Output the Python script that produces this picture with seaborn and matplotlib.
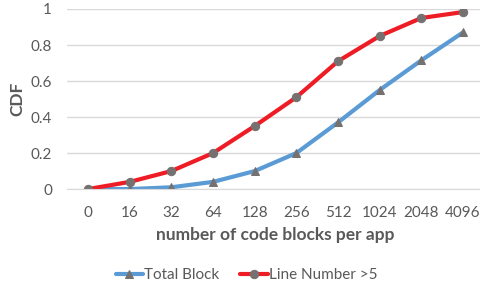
import pandas as pd
import seaborn as sns
import matplotlib.pyplot as plt

blocks = ["0", "16", "32", "64", "128", "256", "512", "1024", "2048", "4096"]
total_block = [0.0, 0.0, 0.01, 0.04, 0.10, 0.20, 0.37, 0.55, 0.715, 0.87]
line_gt5 = [0.0, 0.04, 0.10, 0.20, 0.35, 0.51, 0.71, 0.85, 0.95, 0.983]

sns.set_style("white")
plt.rcParams['font.family'] = ['Lato', 'DejaVu Sans']
text_gray = "#595959"

df = pd.DataFrame({
    "pos": list(range(len(blocks))) * 2,
    "cdf": total_block + line_gt5,
    "series": ["Total Block"] * len(blocks) + ["Line Number >5"] * len(blocks),
})

fig = plt.figure(figsize=(4.8, 2.9), dpi=100)
ax = fig.add_axes([0.14, 0.348, 0.868, 0.621])

sns.lineplot(data=df[df.series == "Total Block"], x="pos", y="cdf", ax=ax,
             color="#5B9BD5", linewidth=3, marker="^", markersize=6,
             markerfacecolor="#767171", markeredgecolor="#767171",
             label="Total Block")
sns.lineplot(data=df[df.series == "Line Number >5"], x="pos", y="cdf", ax=ax,
             color="#EE1C25", linewidth=3, marker="o", markersize=6,
             markerfacecolor="#767171", markeredgecolor="#767171",
             label="Line Number >5")

ax.set_xlim(-0.5, len(blocks) - 0.5)
ax.set_ylim(0, 1)
ax.set_xticks(range(len(blocks)))
ax.set_xticklabels(blocks)
ax.set_yticks([0, 0.2, 0.4, 0.6, 0.8, 1])
ax.set_yticklabels(["0", "0.2", "0.4", "0.6", "0.8", "1"])
ax.yaxis.grid(True, color="#D9D9D9", linewidth=1)
ax.set_axisbelow(True)
for s in ["top", "right", "left"]:
    ax.spines[s].set_visible(False)
ax.spines["bottom"].set_color("#D9D9D9")
ax.tick_params(axis="both", length=0, labelsize=11, colors=text_gray)
ax.tick_params(axis="x", pad=12)
ax.tick_params(axis="y", pad=11)
ax.set_xlabel("number of code blocks per app", fontsize=12.5, fontweight="bold",
              color=text_gray, labelpad=5)
ax.set_ylabel("CDF", fontsize=12.5, fontweight="bold", color=text_gray, labelpad=4)

ax.legend(loc="center", bbox_to_anchor=(0.43, -0.478), ncol=2, frameon=False,
          fontsize=11, labelcolor=text_gray, handlelength=1.8, handletextpad=0.05,
          columnspacing=1.4, borderpad=0, borderaxespad=0)

fig.savefig("out.png", dpi=100)
